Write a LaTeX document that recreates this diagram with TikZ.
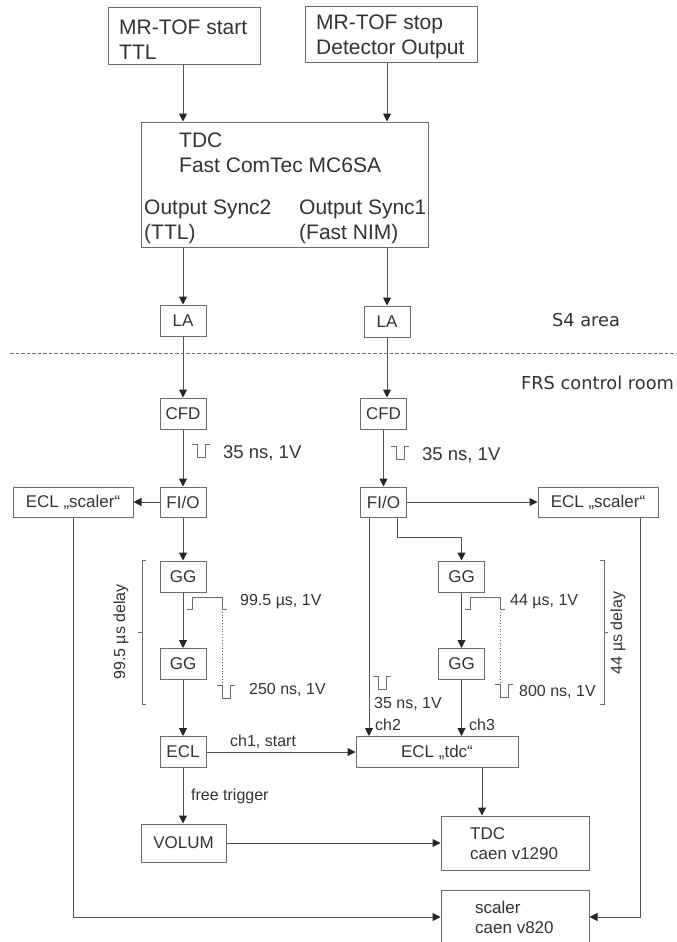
\documentclass[tikz,border=0pt]{standalone}
\usepackage{fontspec}
\setmainfont{Liberation Sans}
\newfontfamily\areafont{DejaVu Sans}
\usetikzlibrary{arrows.meta}

\definecolor{linegray}{gray}{0.42}
\definecolor{textgray}{gray}{0.2}

\tikzset{
    box/.style={draw=linegray, line width=1pt, text=textgray, inner sep=0pt,
        font=\fontsize{17}{19}\selectfont},
    bigtext/.style={text=textgray, inner sep=0pt, anchor=west, align=left,
        font=\fontsize{21}{25}\selectfont},
    midtext/.style={text=textgray, inner sep=0pt, anchor=west, align=left,
        font=\fontsize{17}{19.5}\selectfont},
    smalltext/.style={text=textgray, inner sep=0pt, anchor=west,
        font=\fontsize{16}{19}\selectfont},
    areatext/.style={text=textgray, inner sep=0pt,
        font=\areafont\fontsize{17.8}{20}\selectfont},
    conn/.style={draw=black!68, line width=1pt, -{Triangle[length=8pt,width=8pt,color=black!85]}},
    pulse/.style={draw=linegray, line width=0.8pt},
}

\begin{document}
\begin{tikzpicture}[x=1pt,y=-1pt]

    \useasboundingbox (0,0) rectangle (677,942);

    % -------------------------------
    % top: sources and TDC
    % -------------------------------
    \node[box, minimum width=152, minimum height=57] (start) at (184,36) {};
    \node[box, minimum width=172, minimum height=56] (stop) at (391,35) {};
    \node[box, minimum width=287, minimum height=125] (tdc) at (284.5,184.5) {};

    \node[bigtext] (starttext) at (119,40) {MR-TOF start\\TTL};
    \node[bigtext] (stoptext) at (316,37) {MR-TOF stop\\Detector Output};
    \node[bigtext] (tdctext) at (179,153) {TDC\\Fast ComTec MC6SA};
    \node[bigtext] (synctwo) at (144,222) {Output Sync2\\(TTL)};
    \node[bigtext] (syncone) at (299,222) {Output Sync1\\(Fast NIM)};

    % -------------------------------
    % left chain
    % -------------------------------
    \foreach \name/\txt/\xx/\yy/\hh in {
        lal/LA/183/320.5/31, cfdl/CFD/183/413.5/31, fiol/FI\slash O/183/502/30,
        ggla/GG/183/576.5/31, gglb/GG/183/664/31, ecl/ECL/183/752/31} {
        \node[box, minimum width=46, minimum height=\hh] (\name) at (\xx,\yy) {\txt};
    }

    % -------------------------------
    % right chain
    % -------------------------------
    \foreach \name/\txt/\xx/\yy/\hh in {
        lar/LA/387/321.5/31, cfdr/CFD/383.5/413.5/31, fior/FI\slash O/383.5/502/30,
        ggra/GG/461.5/576.5/31, ggrb/GG/461.5/664/31} {
        \node[box, minimum width=46, minimum height=\hh] (\name) at (\xx,\yy) {\txt};
    }

    % -------------------------------
    % wide modules
    % -------------------------------
    \node[box, minimum width=120, minimum height=30] (scl) at (73,502) {ECL „scaler“};
    \node[box, minimum width=120, minimum height=30] (scr) at (598,502) {ECL „scaler“};
    \node[box, minimum width=162, minimum height=31] (ecltdc) at (437,752) {ECL „tdc“};
    \node[box, minimum width=85, minimum height=38] (volum) at (183.5,843) {VOLUM};
    \node[box, minimum width=148, minimum height=54] (caen) at (515,843) {};
    \node[box, minimum width=148, minimum height=62] (scaler) at (515,921) {};

    \node[midtext] (caentext) at (470,843.5) {TDC\\caen v1290};
    \node[midtext] (scalertext) at (475,917.5) {scaler\\caen v820};

    % helper points for the off-centre connectors
    \coordinate (chtwo) at (369,752);
    \coordinate (branch) at (397,537);
    \coordinate (tdcin) at (482,790);
    \coordinate (scrout) at (640,530);

    % -------------------------------
    % connectors
    % -------------------------------
    \draw[conn] (lal |- start.south) -- (lal |- tdc.north);
    \draw[conn] (lar |- stop.south) -- (lar |- tdc.north);
    \draw[conn] (lal |- tdc.south) -- (lal.north);
    \draw[conn] (lar |- tdc.south) -- (lar.north);
    \draw[conn] (lal.south) -- (cfdl.north);
    \draw[conn] (lar.south) -- (lar.south |- cfdr.north);
    \draw[conn] (cfdl.south) -- (fiol.north);
    \draw[conn] (cfdr.south) -- (fior.north);
    \draw[conn] (fiol.west) -- (scl.east);
    \draw[conn] (fior.east) -- (scr.west);
    \draw[conn] (fiol.south) -- (ggla.north);
    \draw[conn] (ggla.south) -- (gglb.north);
    \draw[conn] (gglb.south) -- (ecl.north);
    \draw[conn] (branch |- fior.south) -- (branch) -| (ggra.north);
    \draw[conn] (ggra.south) -- (ggrb.north);
    \draw[conn] (ggrb.south) -- (ggrb.south |- ecltdc.north);
    \draw[conn] (chtwo |- fior.south) -- (chtwo |- ecltdc.north);
    \draw[conn] (ecl.east) -- (ecltdc.west);
    \draw[conn] (ecl.south) -- (ecl.south |- volum.north);
    \draw[conn] (volum.east) -- (caen.west);
    \draw[conn] (tdcin |- ecltdc.south) -- (tdcin |- caen.north);
    \draw[conn] (scl.south) |- ([yshift=4pt]scaler.west);
    \draw[conn] (scrout |- scr.south) |- ([yshift=4pt]scaler.east);

    % -------------------------------
    % dashed separator
    % -------------------------------
    \coordinate (sepl) at (10,353);
    \coordinate (sepr) at (677,353);
    \draw[linegray, dashed, dash pattern=on 3.5pt off 2pt, line width=0.8pt] (sepl) -- (sepr);
    \node[areatext] (sfour) at (586,320) {S4 area};
    \node[areatext] (frs) at (597.5,383) {FRS control room};

    % -------------------------------
    % pulse shapes
    % -------------------------------
    % negative pulses
    \foreach \xx/\yy in {192/444, 391/446, 217/685, 495/684, 373/676} {
        \draw[pulse] (\xx,\yy) -- ++(5,0) -- ++(0,13) -- ++(8,0) -- ++(0,-13) -- ++(5,0);
    }
    % long gates with dotted tail
    \foreach \xx in {187, 465} {
        \draw[pulse] (\xx,609) -- ++(5,0) -- ++(0,-12) -- ++(30,0) -- ++(0,12) -- ++(5,0);
        \draw[pulse, dotted] (\xx+35,609) -- (\xx+35,685);
    }

    % pulse labels
    \node[midtext, font=\fontsize{18.5}{20}\selectfont] (pla) at (223,453) {35 ns, 1V};
    \node[midtext, font=\fontsize{18.5}{20}\selectfont] (plb) at (422,455) {35 ns, 1V};
    \node[smalltext] (plc) at (240,602) {99.5 µs, 1V};
    \node[smalltext] (pld) at (249,690) {250 ns, 1V};
    \node[smalltext] (ple) at (510,602) {44 µs, 1V};
    \node[smalltext] (plf) at (519,692) {800 ns, 1V};
    \node[smalltext] (plg) at (374,704) {35 ns, 1V};
    \node[smalltext] (chlb) at (375,725) {ch2};
    \node[smalltext] (chlc) at (469,725) {ch3};
    \node[smalltext] (chla) at (230,742) {ch1, start};
    \node[smalltext] (free) at (191,796) {free trigger};

    % -------------------------------
    % delay brackets
    % -------------------------------
    \coordinate (brla) at (146,560);
    \coordinate (brlb) at (146,704);
    \coordinate (brra) at (600,560);
    \coordinate (brrb) at (600,704);
    \draw[pulse] (brla) -- (142,560) -- (142,704) -- (brlb);
    \draw[pulse] (142,632) -- (138,632);
    \draw[pulse] (brra) -- (604,560) -- (604,704) -- (brrb);
    \draw[pulse] (604,632) -- (608,632);
    \node[smalltext, anchor=center, rotate=90] (dll) at (121,632) {99.5 µs delay};
    \node[smalltext, anchor=center, rotate=90] (dlr) at (618,633) {44 µs delay};

\end{tikzpicture}
\end{document}
